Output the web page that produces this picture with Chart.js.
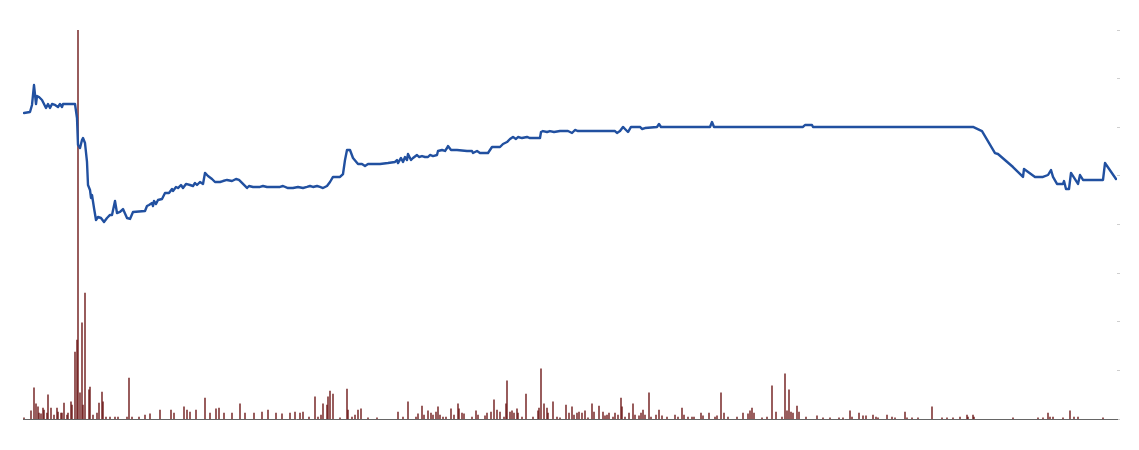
<!DOCTYPE html>
<html>
<head>
<meta charset="utf-8">
<script src="https://cdn.jsdelivr.net/npm/chart.js@4"></script>
<style>
html,body{margin:0;padding:0;background:#fff;}
#wrap{width:1139px;height:450px;}
</style>
</head>
<body>
<div id="wrap"><canvas id="c" width="1139" height="450"></canvas></div>
<script>
// Price series: trading day index and closing price
const priceDays = [1,7,9,11,13,14,16,19,21,23,25,27,29,32,35,37,39,40,52,54,55,57,59,60,62,64,65,67,68,69,71,73,75,78,81,84,87,89,92,94,97,100,104,107,110,122,124,126,129,130,131,133,135,139,142,146,149,150,153,155,158,160,163,167,170,172,174,177,180,182,185,189,192,197,200,204,209,213,216,220,223,224,226,230,237,240,244,250,257,260,265,270,275,280,284,287,290,294,297,300,304,307,310,317,320,322,324,327,330,335,339,342,345,357,365,372,374,375,378,380,382,384,385,388,390,394,396,399,402,405,407,410,414,415,419,422,424,425,428,434,444,449,450,454,457,465,467,469,477,480,484,487,490,493,495,499,504,507,517,518,520,524,527,531,537,545,549,552,555,592,594,597,600,602,605,608,617,619,622,634,636,638,687,689,691,780,782,789,790,950,959,972,975,990,1000,1001,1012,1020,1025,1028,1030,1034,1040,1041,1043,1046,1048,1055,1057,1060,1080,1082,1093];
const priceValues = [31.47,31.57,32.29,34.34,32.39,33.21,33.11,32.80,32.39,31.98,32.39,31.98,32.39,32.29,32.08,32.39,32.08,32.39,32.39,30.95,28.18,27.87,28.69,28.89,28.38,26.43,24.06,23.55,22.73,23.03,21.70,20.46,20.77,20.67,20.26,20.67,20.98,20.98,22.42,21.18,21.29,21.59,20.67,20.57,21.29,21.39,21.90,22.01,22.21,21.90,22.42,22.11,22.52,22.62,23.24,23.24,23.65,23.45,23.86,23.75,24.06,23.75,24.17,24.06,23.96,24.27,24.06,24.37,24.17,25.30,24.99,24.68,24.37,24.37,24.47,24.58,24.47,24.68,24.58,24.17,23.86,23.75,23.96,23.86,23.86,23.96,23.86,23.86,23.86,23.96,23.75,23.75,23.86,23.75,23.86,23.96,23.86,23.96,23.86,23.75,23.96,24.37,24.89,24.89,25.19,26.63,27.66,27.66,26.84,26.22,26.22,26.02,26.22,26.22,26.32,26.43,26.63,26.32,26.84,26.43,26.94,26.63,27.25,26.63,26.84,27.15,26.94,27.04,26.94,26.94,27.15,27.04,27.15,27.56,27.66,27.56,27.87,28.07,27.66,27.66,27.56,27.56,27.35,27.56,27.35,27.35,27.66,27.97,27.97,28.28,28.48,28.79,29.00,28.79,29.00,28.89,29.00,28.89,28.89,29.51,29.61,29.51,29.61,29.51,29.61,29.61,29.41,29.72,29.61,29.61,29.41,29.61,30.03,29.82,29.51,30.03,30.03,29.82,29.92,30.03,30.33,30.03,30.03,30.54,30.03,30.03,30.23,30.23,30.03,30.03,29.61,27.35,27.25,25.91,24.89,25.71,24.89,24.89,25.09,25.60,24.89,24.17,24.17,24.47,23.65,23.65,25.30,24.17,25.09,24.58,24.58,26.32,24.68];

// Volume series: day index and traded volume
const volumeDays = [1,8,11,13,15,16,18,20,21,24,25,28,31,34,35,38,39,41,44,45,48,49,52,54,55,57,59,60,62,66,67,70,74,76,79,80,83,87,92,95,104,106,109,116,122,127,137,148,151,161,164,167,173,182,187,193,196,201,209,217,222,231,239,245,253,259,267,272,277,280,286,292,295,298,300,304,305,307,310,317,324,325,329,332,335,338,345,354,375,380,385,393,395,399,401,405,408,410,413,415,417,420,423,428,431,435,436,439,441,449,453,455,462,464,468,471,474,477,481,483,484,487,489,491,494,495,499,503,510,515,516,518,521,524,525,530,534,537,543,546,549,551,554,556,559,562,565,569,571,576,580,582,584,586,590,592,595,598,599,602,606,610,612,616,618,620,622,626,628,633,636,639,644,652,655,659,661,665,669,671,678,680,686,692,694,698,701,705,714,720,725,727,729,731,739,744,749,753,759,762,764,766,768,770,774,776,783,794,800,807,816,820,827,829,836,840,843,850,853,855,864,869,872,882,884,889,895,909,919,924,930,937,944,945,950,951,990,1015,1020,1025,1027,1030,1040,1047,1051,1055,1080];
const volumeValues = [0.3,2.1,8.0,3.9,3.1,1.5,1.3,2.8,2.3,1.5,6.2,2.8,1.0,2.8,1.8,1.5,1.5,4.1,1.0,1.5,4.4,3.6,17.2,20.3,100,6.7,24.7,3.6,32.4,7.5,8.2,1.0,1.5,4.1,6.9,4.4,0.5,0.5,0.5,0.5,0.5,10.5,0.5,0.5,1.0,1.3,2.3,2.3,1.5,3.1,2.3,1.8,2.3,5.4,1.5,2.6,2.8,1.5,1.5,3.9,1.5,1.5,1.8,2.3,1.5,1.3,1.5,1.8,1.5,1.8,0.5,5.7,0.5,1.0,3.9,3.6,5.7,7.2,6.4,0.3,7.7,2.3,0.5,1.0,2.3,2.6,0.3,0.3,1.8,0.5,4.4,0.5,1.3,3.3,1.0,2.1,1.5,1.0,1.8,3.1,1.0,0.5,0.5,2.6,1.0,3.9,2.6,1.5,1.3,0.5,2.1,1.0,0.8,1.5,1.8,4.9,2.3,1.8,0.5,3.9,9.8,1.8,2.1,1.5,2.6,1.5,0.5,6.4,0.5,2.1,2.8,12.9,3.9,2.8,1.5,4.4,0.5,0.3,3.6,1.5,3.1,1.0,1.5,1.8,1.5,2.1,0.3,3.9,1.8,3.3,1.8,0.8,1.0,1.5,0.5,1.5,1.0,5.4,3.1,0.5,1.5,3.9,1.0,0.8,1.5,2.3,1.0,6.7,0.5,1.0,2.3,0.8,0.5,1.0,0.5,2.8,1.0,0.5,0.5,0.5,1.5,0.8,1.5,0.5,0.8,6.7,1.5,0.5,0.5,1.5,1.3,2.1,2.8,1.5,0.3,0.5,8.5,1.8,0.5,11.6,2.1,7.5,1.8,1.5,3.3,1.8,0.5,0.8,0.3,0.3,0.3,0.3,2.1,0.5,1.5,0.8,0.8,1.0,0.5,0.3,1.0,0.5,0.3,1.8,0.3,0.3,0.3,3.1,0.3,0.3,0.3,0.5,1.0,0.5,1.0,0.5,0.3,0.3,0.3,1.5,0.5,0.5,0.3,2.1,0.5,0.5,0.3];

// Axis ranges / ticks
const dayRange = [0, 1094];
const priceRange = [0, 40];
const priceStep = 5;
const volumeMax = 100;

const priceData = priceDays.map((d, i) => ({x: d, y: priceValues[i]}));
const volumeData = volumeDays.map((d, i) => ({x: d, y: volumeValues[i]}));

new Chart(document.getElementById('c'), {
  type: 'bar',
  data: {
    datasets: [
      {
        type: 'line',
        data: priceData,
        yAxisID: 'price',
        borderColor: '#2150a0',
        borderWidth: 2.4,
        borderJoinStyle: 'round',
        borderCapStyle: 'round',
        pointRadius: 0,
        tension: 0,
        fill: false,
        order: 0
      },
      {
        type: 'bar',
        data: volumeData,
        yAxisID: 'vol',
        backgroundColor: 'rgba(105,18,18,0.78)',
        borderWidth: 0,
        barThickness: 1.1,
        order: 1
      }
    ]
  },
  options: {
    responsive: false,
    animation: false,
    layout: {padding: {left: 23, right: 19, top: 30, bottom: 23}},
    plugins: {legend: {display: false}, tooltip: {enabled: false}},
    scales: {
      x: {
        type: 'linear',
        min: dayRange[0],
        max: dayRange[1],
        offset: false,
        ticks: {display: false},
        grid: {display: false},
        border: {display: true, color: '#666', width: 1}
      },
      price: {
        position: 'right',
        min: priceRange[0],
        max: priceRange[1],
        ticks: {display: false, stepSize: priceStep},
        grid: {display: true, drawOnChartArea: false, drawTicks: true, tickLength: 3, color: '#cfcfcf'},
        border: {display: false}
      },
      vol: {
        display: false,
        min: 0,
        max: volumeMax
      }
    }
  }
});
</script>
</body>
</html>
